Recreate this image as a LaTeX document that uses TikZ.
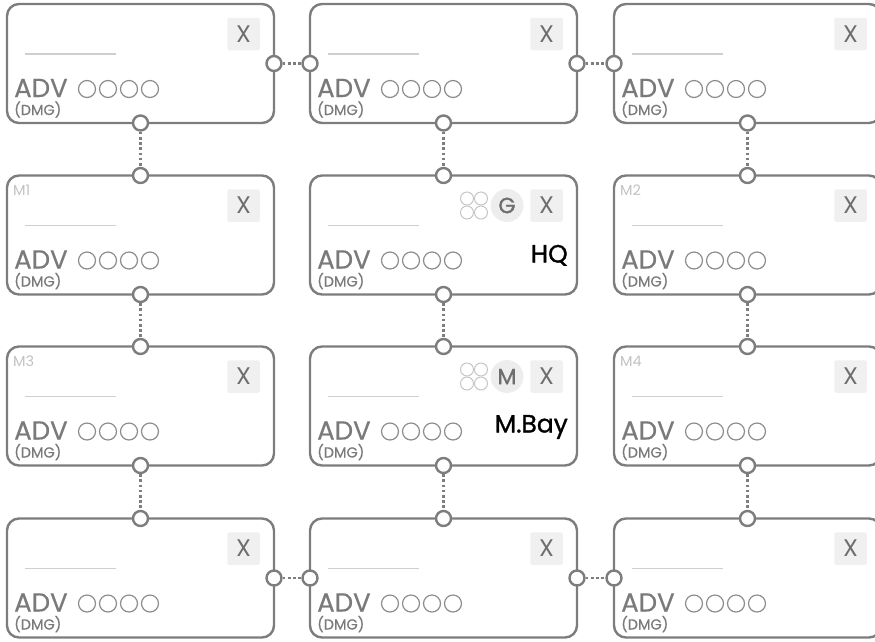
\documentclass[tikz,border=0pt]{standalone}
\usepackage{fontspec}
\setmainfont{Poppins}
\newfontfamily\heavyfont{Poppins}[FakeBold=1.2]
\newfontfamily\midfont{Poppins}[FakeBold=0.6]
\definecolor{cardline}{HTML}{7D7D7D}
\definecolor{cardtext}{HTML}{7A7A7A}
\definecolor{xtext}{HTML}{6E6E6E}
\definecolor{xfill}{HTML}{F0F0F0}
\definecolor{blankline}{HTML}{CFCFCF}
\definecolor{pipline}{HTML}{8C8C8C}
\definecolor{tagtext}{HTML}{C2C2C2}
\definecolor{ringline}{HTML}{C6C6C6}
\definecolor{badgefill}{HTML}{EDEDED}

\begin{document}
\begin{tikzpicture}[x=1pt,y=-1pt]
\tikzstyle{every node}+=[inner sep=0pt]
\tikzstyle{card}=[draw=cardline, line width=2.4pt, rounded corners=12pt, minimum width=267pt, minimum height=119pt, outer sep=0pt]
\tikzstyle{port}=[circle, draw=cardline, fill=white, line width=2.4pt, minimum size=15pt]
\tikzstyle{link}=[cardline, line width=2.6pt, dash pattern=on 2.6pt off 2.6pt]
\tikzstyle{xbtn}=[fill=xfill, rounded corners=1.5pt, minimum size=32.5pt, text=xtext, font=\fontsize{24}{24}\selectfont]
\tikzstyle{bigtext}=[anchor=base west, text=cardtext, font=\midfont\fontsize{26}{26}\selectfont]
\tikzstyle{smalltext}=[anchor=base west, text=cardtext, font=\midfont\fontsize{14.5}{14.5}\selectfont]
\tikzstyle{pip}=[pipline, line width=1.2pt]
\tikzstyle{ring}=[ringline, line width=1pt]
\tikzstyle{badge}=[circle, fill=badgefill, minimum size=33pt, text=xtext, font=\heavyfont\fontsize{22}{22}\selectfont]
\tikzstyle{place}=[anchor=base east, text=black, font=\heavyfont\fontsize{25}{25}\selectfont]
\tikzstyle{tag}=[anchor=base west, text=tagtext, font=\fontsize{14.5}{14.5}\selectfont]
\path[use as bounding box, clip] (0,0) rectangle (875,641);

% cards
\node[card] (r1c1) at (140.5,63.5) {};
\node[card] (r1c2) at (443.5,63.5) {};
\node[card] (r1c3) at (747.5,63.5) {};
\node[card] (r2c1) at (140.5,235) {};
\node[card] (r2c2) at (443.5,235) {};
\node[card] (r2c3) at (747.5,235) {};
\node[card] (r3c1) at (140.5,406) {};
\node[card] (r3c2) at (443.5,406) {};
\node[card] (r3c3) at (747.5,406) {};
\node[card] (r4c1) at (140.5,578) {};
\node[card] (r4c2) at (443.5,578) {};
\node[card] (r4c3) at (747.5,578) {};

% what every card shows
\foreach \n in {r1c1,r1c2,r1c3,r2c1,r2c2,r2c3,r3c1,r3c2,r3c3,r4c1,r4c2,r4c3}{
\begin{scope}[shift={(\n.north west)}]
\node[xbtn] (\n-x) at (236.5,30) {X};
\draw[blankline, line width=1.4pt] (18,50) -- (109,50);
\node[bigtext] (\n-adv) at (7,93) {ADV};
\node[smalltext] (\n-dmg) at (7,111) {(DMG)};
\foreach \i in {80,101,122,143} \draw[pip] (\i,85) circle (8.5);
\end{scope}
}

% map tags
\node[tag] (m1) at ([shift={(6,19.5)}]r2c1.north west) {M1};
\node[tag] (m2) at ([shift={(6,19.5)}]r2c3.north west) {M2};
\node[tag] (m3) at ([shift={(6,19.5)}]r3c1.north west) {M3};
\node[tag] (m4) at ([shift={(6,19.5)}]r3c3.north west) {M4};

% HQ card
\begin{scope}[shift={(r2c2.north west)}]
\draw[ring] (157,23) circle (6.5);
\draw[ring] (171,23) circle (6.5);
\draw[ring] (157,37) circle (6.5);
\draw[ring] (171,37) circle (6.5);
\node[badge] (r2c2-g) at (197,30) {G};
\node[place] (r2c2-hq) at (258,87) {HQ};
\end{scope}

% M.Bay card
\begin{scope}[shift={(r3c2.north west)}]
\draw[ring] (157,23) circle (6.5);
\draw[ring] (171,23) circle (6.5);
\draw[ring] (157,37) circle (6.5);
\draw[ring] (171,37) circle (6.5);
\node[badge] (r3c2-m) at (197,30) {M};
\node[place] (r3c2-bay) at (258,86) {M.Bay};
\end{scope}

% links down the columns
\foreach \col in {1,2,3}{
\foreach \row/\next in {1/2,2/3,3/4}{
\node[port] (r\row c\col s) at (r\row c\col.south) {};
\node[port] (r\next c\col n) at (r\next c\col.north) {};
\draw[link] (r\row c\col s) -- (r\next c\col n);
}
}

% links along the top and bottom rows
\foreach \row in {1,4}{
\foreach \col/\next in {1/2,2/3}{
\node[port] (r\row c\col e) at (r\row c\col.east) {};
\node[port] (r\row c\next w) at (r\row c\next.west) {};
\draw[link] (r\row c\col e) -- (r\row c\next w);
}
}
\end{tikzpicture}
\end{document}
